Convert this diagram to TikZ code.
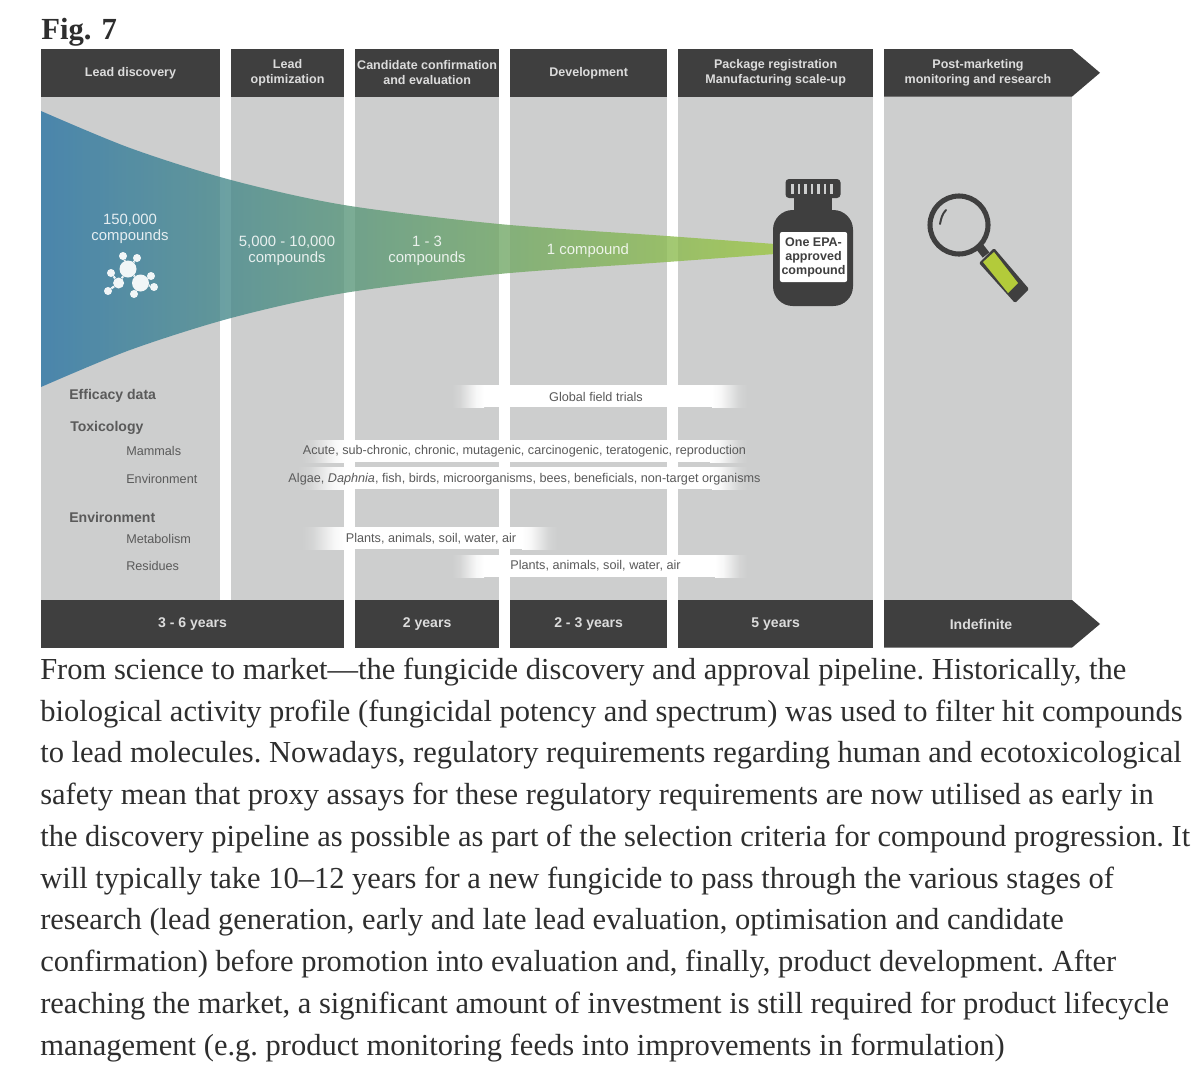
\documentclass[tikz,border=0pt]{standalone}
\usepackage{fontspec}
\setmainfont{Liberation Sans}
\newfontfamily\capfont{Liberation Serif}
\usetikzlibrary{positioning}
\definecolor{barDark}{HTML}{3F3F3F}
\definecolor{barText}{HTML}{DCDCDC}
\definecolor{colGray}{HTML}{CDCECE}
\definecolor{rowText}{HTML}{5A5A5A}
\definecolor{leadBlue}{HTML}{2A74A4}
\definecolor{midTeal}{HTML}{5E9774}
\definecolor{endGreen}{HTML}{9CC642}
\definecolor{handleGreen}{HTML}{B3CB3A}
\definecolor{capText}{HTML}{2E2E2E}
\pgfdeclarehorizontalshading{rowfadein}{100bp}{color(0bp)=(colGray); color(25bp)=(colGray); color(37.5bp)=(white!15!colGray);
  color(50bp)=(white!50!colGray); color(62.5bp)=(white!85!colGray); color(75bp)=(white); color(100bp)=(white)}
\pgfdeclarehorizontalshading{rowfadeout}{100bp}{color(0bp)=(white); color(25bp)=(white); color(37.5bp)=(white!85!colGray);
  color(50bp)=(white!50!colGray); color(62.5bp)=(white!15!colGray); color(75bp)=(colGray); color(100bp)=(colGray)}
\tikzset{
  hdbox/.style={fill=barDark, text=barText, inner sep=0pt, outer sep=0pt, align=center, minimum height=1.19cm,
    font=\fontsize{8.9}{10.4}\selectfont\bfseries},
  yrbox/.style={hdbox, font=\fontsize{10}{12}\selectfont\bfseries},
  flowtxt/.style={text=white, opacity=.85, align=center, inner sep=0pt, font=\fontsize{10.6}{11.6}\selectfont},
  grouplbl/.style={anchor=west, inner sep=0pt, text=rowText, font=\fontsize{10}{11}\selectfont\bfseries},
  sublbl/.style={anchor=west, inner sep=0pt, text=rowText, font=\fontsize{9}{10}\selectfont},
  rowtxt/.style={inner sep=0pt, text=rowText, font=\fontsize{9}{10}\selectfont},
  atomdot/.style={circle, fill=white, inner sep=0pt, opacity=.92},
}

\begin{document}
\begin{tikzpicture}[x=0.025cm, y=-0.025cm]
    \useasboundingbox (0,0) rectangle (1200,1073);
    % gray columns
    \foreach \xa/\xb in {41/220, 231/344, 355/499, 510/667, 678/873, 884/1072}
      \fill[colGray] (\xa,96) rectangle (\xb,601);
    % faded white rows
    \foreach \xa/\xb/\xc/\xd/\ya/\yb in {452/484/712/747/385/407, 302/345/710/747/440/462, 298/345/712/747/467/489,
        302/345/522/557/527/549, 452/484/715/747/555/577} {
      \shade[shading=rowfadein] (\xa,\ya) rectangle (\xb,\yb);
      \fill[white] (\xb-0.5,\ya) rectangle (\xc+0.5,\yb);
      \shade[shading=rowfadeout] (\xc,\ya) rectangle (\xd,\yb);
    }
    % funnel
    \shade[left color=leadBlue, middle color=midTeal, right color=endGreen, fill opacity=.8]
      plot[smooth] coordinates {(41,111) (130,148) (231,180) (344,205) (499,224) (667,236) (775,244)}
      -- plot[smooth] coordinates {(775,254) (667,262) (499,274) (344,293) (231,318) (130,350) (41,387)} -- cycle;
    % header
    \node[hdbox, anchor=north west, minimum width=4.475cm] (hd1) at (41,49) {Lead discovery};
    \node[hdbox, minimum width=2.825cm, right=0.275cm of hd1] (hd2) {Lead\\optimization};
    \node[hdbox, minimum width=3.6cm, right=0.275cm of hd2] (hd3) {Candidate confirmation\\and evaluation};
    \node[hdbox, minimum width=3.925cm, right=0.275cm of hd3] (hd4) {Development};
    \node[hdbox, minimum width=4.875cm, right=0.275cm of hd4] (hd5) {Package registration\\Manufacturing scale-up};
    \fill[barDark] (884,49) -- (1072,49) -- (1100,72.8) -- (1072,96.6) -- (884,96.6) -- cycle;
    \node[hdbox, fill=none, minimum width=4.7cm] (hd6) at (978,72.8) {Post-marketing\\monitoring and research};
    % years
    \node[yrbox, anchor=north west, minimum width=7.575cm] (yr1) at (41,600) {3 - 6 years};
    \node[yrbox, minimum width=3.6cm, right=0.275cm of yr1] (yr2) {2 years};
    \node[yrbox, minimum width=3.925cm, right=0.275cm of yr2] (yr3) {2 - 3 years};
    \node[yrbox, minimum width=4.875cm, right=0.275cm of yr3] (yr4) {5 years};
    \fill[barDark] (884,600) -- (1072,600) -- (1100,624) -- (1072,647.6) -- (884,647.6) -- cycle;
    \node[yrbox, fill=none] (yr5) at (981,624) {Indefinite};
    % funnel labels
    \node[flowtxt] (n1) at (130,229) {150,000\\compounds};
    \node[flowtxt] (n2) at (287,251) {5,000 - 10,000\\compounds};
    \node[flowtxt] (n3) at (427,251) {1 - 3\\compounds};
    \node[flowtxt] (n4) at (588,251) {1 compound};
    % molecule
    \foreach \nm/\cx/\cy/\dm in {ma/140.5/283/17, mb/128/269/17, mc/118.6/283/11, md/123/256/8, me/137/258/8,
        mf/111/273/8, mg/108/291/8, mh/151/276/8, mi/154/287/8, mj/134/294/8}
      \node[atomdot, minimum size=\dm*0.025cm] (\nm) at (\cx,\cy) {};
    \foreach \p/\q in {ma/mb, mb/mc, mb/md, mb/me, mc/mf, mc/mg, ma/mh, ma/mi, ma/mj}
      \draw[white, opacity=.92, line width=1.5pt] (\p)--(\q);
    % row titles
    \node[grouplbl] (lb1) at (69,396) {Efficacy data};
    \node[grouplbl] (lb2) at (70,428) {Toxicology};
    \node[sublbl] (lb3) at (126,451) {Mammals};
    \node[sublbl] (lb4) at (126,478.5) {Environment};
    \node[grouplbl] (lb5) at (69,517) {Environment};
    \node[sublbl] (lb6) at (126,538.5) {Metabolism};
    \node[sublbl] (lb7) at (126,565.5) {Residues};
    % row texts
    \node[rowtxt] (r1) at (596,397) {Global field trials};
    \node[rowtxt] (r2) at (524.5,451) {Acute, sub-chronic, chronic, mutagenic, carcinogenic, teratogenic, reproduction};
    \node[rowtxt] (r3) at (524.5,479) {Algae, \textit{Daphnia}, fish, birds, microorganisms, bees, beneficials, non-target organisms};
    \node[rowtxt] (r4) at (431,538.5) {Plants, animals, soil, water, air};
    \node[rowtxt] (r5) at (595.5,566) {Plants, animals, soil, water, air};
    % bottle
    \fill[barDark, rounded corners=14pt] (773,210) rectangle (853,306);
    \fill[barDark] (794,195) rectangle (832,215);
    \fill[barDark, rounded corners=2.5pt] (785.5,179) rectangle (840.5,198);
    \foreach \sx in {791,797.5,...,830}
      \fill[colGray] (\sx,183.5) rectangle (\sx+2.6,194);
    \node[fill=white, rounded corners=1.5pt, inner sep=0pt, minimum width=1.68cm, minimum height=1.25cm, align=center,
      text=barDark, font=\fontsize{8.9}{10}\selectfont\bfseries] (lbl) at (813.5,257) {One EPA-\\approved\\compound};
    % magnifier
    \draw[barDark, line width=3.6pt] (959,225) circle (29);
    \draw[barDark, line width=1.4pt, line cap=round] (946,210) .. controls (942,214) and (941,219) .. (940,224);
    \draw[barDark, line width=6pt] (979,246) -- (986,255);
    \fill[barDark, rounded corners=1pt] (979,263) -- (994,248) -- (1029,289) -- (1015,303) -- cycle;
    \fill[handleGreen] (983,262) -- (994,252) -- (1018,283) -- (1008,293) -- cycle;
    % caption
    \node[anchor=base west, inner sep=0pt, text=capText, font=\capfont\fontsize{21.8}{22}\selectfont\bfseries] (figno) at (41,39) {Fig. 7};
    \node[anchor=north west, inner sep=0pt, align=left, text=capText, font=\capfont\frenchspacing\fontsize{21.7}{29.7}\selectfont] (caption) at (40,657.5)
      {From science to market—the fungicide discovery and approval pipeline. Historically, the\\
       biological activity profile (fungicidal potency and spectrum) was used to filter hit compounds\\
       to lead molecules. Nowadays, regulatory requirements regarding human and ecotoxicological\\
       safety mean that proxy assays for these regulatory requirements are now utilised as early in\\
       the discovery pipeline as possible as part of the selection criteria for compound progression. It\\
       will typically take 10–12 years for a new fungicide to pass through the various stages of\\
       research (lead generation, early and late lead evaluation, optimisation and candidate\\
       confirmation) before promotion into evaluation and, finally, product development. After\\
       reaching the market, a significant amount of investment is still required for product lifecycle\\
       management (e.g. product monitoring feeds into improvements in formulation)};
  \end{tikzpicture}
\end{document}
